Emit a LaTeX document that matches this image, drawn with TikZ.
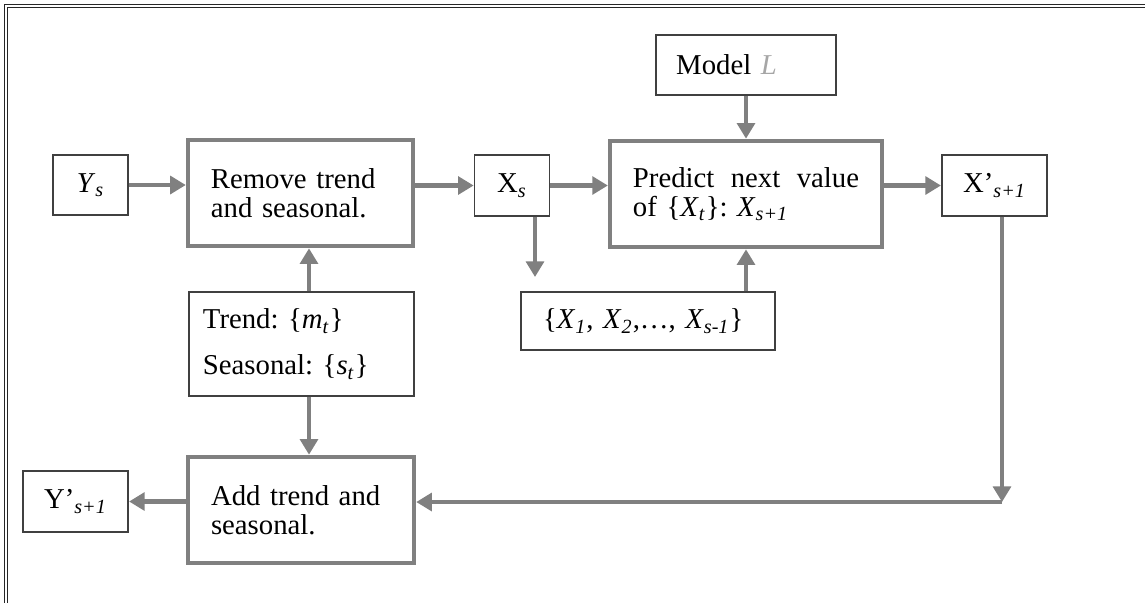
\documentclass[tikz,border=0pt]{standalone}
\usepackage{fontspec}
\setmainfont{Liberation Serif}
\usetikzlibrary{positioning, arrows.meta}

\newcommand{\isub}[1]{\textsubscript{\textit{#1}}}

\tikzset{
  thinbox/.style={draw=black!75, line width=0.8pt, inner sep=0pt, minimum height=29pt,
    font=\fontsize{13.8}{14}\selectfont\frenchspacing},
  thickbox/.style={draw=gray, line width=2.1pt, inner sep=0pt, minimum height=51pt,
    align=left, font=\fontsize{13.8}{14}\selectfont\frenchspacing},
  arr/.style={draw=gray, line width=2pt, -{Triangle[length=7.5pt,width=8.5pt]}},
}

\begin{document}
\begin{tikzpicture}[x=0.48pt, y=-0.48pt]
\useasboundingbox (0,0) rectangle (1145,603);
\draw[black!85, double, double distance=0.8pt, line width=0.4pt] (6,603) -- (6,6) -- (1145,6);

\node[thinbox, minimum width=36pt] (ys) at (90.5,185) {\textit{Y}\isub{s}};
\node[thickbox, minimum width=108pt, text width=86pt] (remove) at (300.5,193) {Remove trend\\and seasonal.};
\node[thinbox, minimum width=36pt] (xs) at (512,185.5) {X\isub{s}};
\node[thickbox, minimum width=130.5pt, text width=108.5pt] (predict) at (746,194)
  {\hbox to 108.5pt{Predict\hfill next\hfill value}\\of \{\textit{X}\isub{t}\}: \textit{X}\isub{s+1}};
\node[thinbox, minimum width=86.6pt, text width=67pt] (model) at (746,65) {Model \textcolor{black!35}{\textit{L}}};
\node[thinbox, minimum width=50.6pt] (xp) at (994.5,185.5) {X’\isub{s+1}};
\node[thinbox, minimum width=108.2pt, minimum height=50pt, text width=94.6pt, align=left] (trend) at (301.5,344)
  {Trend: \{\textit{m}\isub{t}\}\\[8pt]Seasonal: \{\textit{s}\isub{t}\}};
\node[thinbox, minimum width=122pt, minimum height=28pt, text width=100.8pt] (hist) at (648,321)
  {\{\textit{X}\isub{1}, \textit{X}\isub{2},…, \textit{X}\isub{s-1}\}};
\node[thickbox, minimum width=108.5pt, text width=86.4pt] (add) at (301,510) {Add trend and\\seasonal.};
\node[thinbox, minimum width=50.6pt] (yp) at (75.5,501.5) {Y’\isub{s+1}};

\coordinate (xsdown) at (535,277);
\coordinate (tcol) at (309,0);
\coordinate (corner) at (1002,502);

\draw[arr] (ys.east) -- (ys.east -| remove.west);
\draw[arr] (remove.east |- xs.west) -- (xs.west);
\draw[arr] (xs.east) -- (xs.east -| predict.west);
\draw[arr] (model.south) -- (predict.north);
\draw[arr] (predict.east |- xp.west) -- (xp.west);
\draw[arr] (xs.south -| xsdown) -- (xsdown);
\draw[arr] (predict.south |- hist.north) -- (predict.south);
\draw[arr] (trend.north -| tcol) -- (remove.south -| tcol);
\draw[arr] (trend.south -| tcol) -- (add.north -| tcol);
\draw[arr] (xp.south -| corner) -- (corner);
\draw[arr] (corner) -- (corner -| add.east);
\draw[arr] (add.west |- yp.east) -- (yp.east);
\end{tikzpicture}
\end{document}
